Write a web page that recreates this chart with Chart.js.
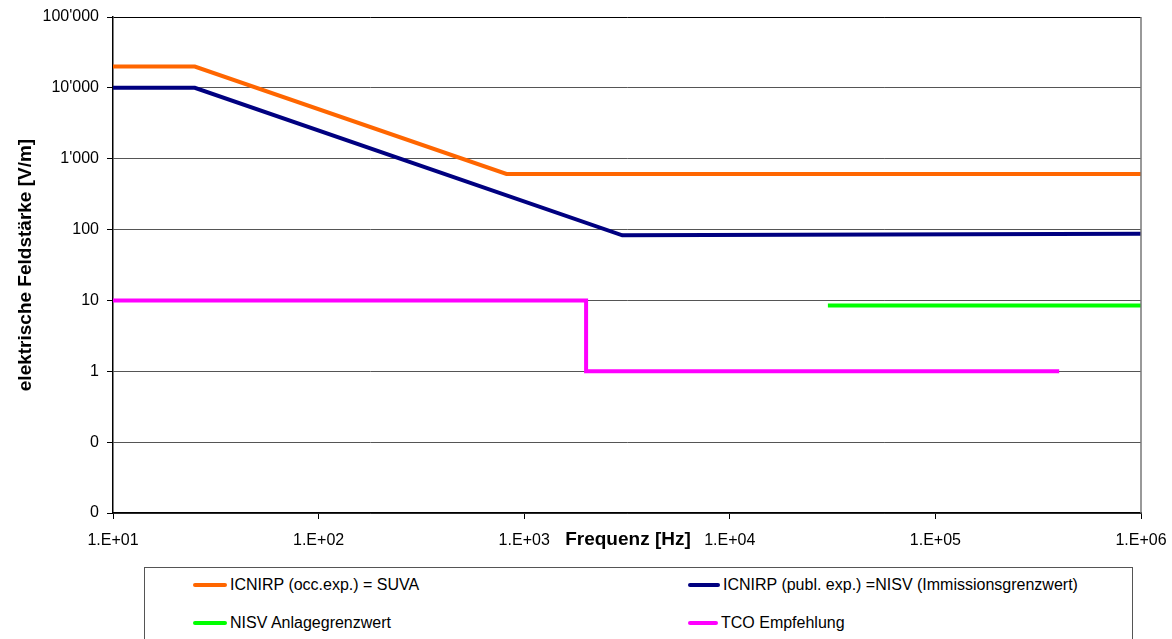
<!DOCTYPE html>
<html>
<head>
<meta charset="utf-8">
<script src="https://cdn.jsdelivr.net/npm/chart.js@4/dist/chart.umd.min.js"></script>
<style>
    html, body { margin: 0; padding: 0; background: #fff; }
    #wrap { position: relative; width: 1172px; height: 639px; overflow: hidden; }
    #legend {
        position: absolute; left: 144px; top: 567px; width: 987px; height: 90px;
        border: 1px solid #555; background: #fff;
        font-family: "Liberation Sans", Arial, sans-serif; font-size: 16px; color: #000;
    }
    .item { position: absolute; display: flex; align-items: center; white-space: nowrap; }
    .swatch { display: inline-block; height: 4px; border-radius: 2px; margin-right: 3px; }
</style>
</head>
<body>
<div id="wrap">
    <canvas id="chart" width="1172" height="639"></canvas>
    <div id="legend"></div>
</div>
<script>
// Frequenz [Hz] und Feldstärke [V/m]
const suvaFreq = [10, 25, 820, 1000000];
const suvaVal = [20000, 20000, 610, 610];

const nisvFreq = [10, 25, 3000, 1000000];
const nisvVal = [10000, 10000, 83, 87];

const anlageFreq = [30000, 1000000];
const anlageVal = [8.5, 8.5];

const tcoFreq = [10, 2000, 2000, 400000];
const tcoVal = [10, 10, 1, 1];

const seriesNames = [
    'ICNIRP (occ.exp.) = SUVA',
    'ICNIRP (publ. exp.) =NISV (Immissionsgrenzwert)',
    'NISV Anlagegrenzwert',
    'TCO Empfehlung'
];
const seriesColors = ['#FF6600', '#000080', '#00FF00', '#FF00FF'];

const xTicks = [10, 100, 1000, 10000, 100000, 1000000];
const yTicks = [0.01, 0.1, 1, 10, 100, 1000, 10000, 100000];

const FONT = '"Liberation Sans", Arial, sans-serif';

function toPoints(xs, ys) {
    return xs.map((x, i) => ({ x: x, y: ys[i] }));
}

function formatY(v) {
    if (v < 1) return '0';
    return String(Math.round(v)).replace(/\B(?=(\d{3})+(?!\d))/g, "'");
}

function formatX(v) {
    const e = Math.round(Math.log10(v));
    return '1.E+' + (e < 10 ? '0' + e : e);
}

const allData = [
    toPoints(suvaFreq, suvaVal),
    toPoints(nisvFreq, nisvVal),
    toPoints(anlageFreq, anlageVal),
    toPoints(tcoFreq, tcoVal)
];

// x-Titel und rechter Rahmen
const extras = {
    id: 'extras',
    afterDraw(chart) {
        const ctx = chart.ctx;
        const a = chart.chartArea;
        ctx.save();
        ctx.strokeStyle = '#777';
        ctx.lineWidth = 1.5;
        ctx.beginPath();
        ctx.moveTo(a.right, a.top);
        ctx.lineTo(a.right, a.bottom);
        ctx.stroke();
        ctx.fillStyle = '#000';
        ctx.font = 'bold 19px ' + FONT;
        ctx.textAlign = 'center';
        ctx.textBaseline = 'middle';
        ctx.fillText('Frequenz [Hz]', (a.left + a.right) / 2 + 1, 540);
        ctx.restore();
    }
};

const ctx = document.getElementById('chart').getContext('2d');
new Chart(ctx, {
    type: 'line',
    data: {
        datasets: allData.map((d, i) => ({
            label: seriesNames[i],
            data: d,
            borderColor: seriesColors[i],
            backgroundColor: seriesColors[i],
            borderWidth: 4,
            pointRadius: 0,
            tension: 0,
            fill: false,
            clip: false
        }))
    },
    options: {
        responsive: false,
        animation: false,
        layout: { padding: { left: 0, top: 17, right: 31, bottom: 86 } },
        plugins: {
            legend: { display: false },
            tooltip: { enabled: false }
        },
        scales: {
            x: {
                type: 'logarithmic',
                min: 10,
                max: 1000000,
                afterBuildTicks: s => { s.ticks = xTicks.map(v => ({ value: v })); },
                afterFit: s => { s.height = 40; s.paddingLeft = 0; s.paddingRight = 0; },
                border: { color: '#000', width: 1.5 },
                grid: { drawOnChartArea: false, drawTicks: true, tickLength: 6, tickColor: '#000' },
                ticks: {
                    padding: 12,
                    maxRotation: 0,
                    autoSkip: false,
                    color: '#000',
                    font: { family: FONT, size: 16 },
                    callback: v => formatX(v)
                }
            },
            y: {
                type: 'logarithmic',
                min: 0.01,
                max: 100000,
                afterBuildTicks: s => { s.ticks = yTicks.map(v => ({ value: v })); },
                afterFit: s => { s.width = 113; s.paddingTop = 0; s.paddingBottom = 0; },
                border: { color: '#000', width: 1.5 },
                grid: {
                    color: ctx => ctx.tick && ctx.tick.value === 100000 ? '#000' : '#555',
                    lineWidth: 1,
                    tickLength: 6,
                    tickColor: '#000'
                },
                ticks: {
                    padding: 8,
                    autoSkip: false,
                    color: '#000',
                    font: { family: FONT, size: 16 },
                    callback: v => formatY(v)
                },
                title: {
                    display: true,
                    text: 'elektrische Feldstärke [V/m]',
                    color: '#000',
                    font: { family: FONT, size: 19, weight: 'bold' },
                    padding: { top: 14, bottom: 0 }
                }
            }
        }
    },
    plugins: [extras]
});

// Legende als HTML, zwei Spalten
const legend = document.getElementById('legend');
const legendPos = [
    { left: 48, top: 8, w: 34 },
    { left: 543, top: 8, w: 32 },
    { left: 48, top: 46, w: 34 },
    { left: 543, top: 46, w: 30 }
];
seriesNames.forEach((name, i) => {
    const item = document.createElement('div');
    item.className = 'item';
    item.style.left = legendPos[i].left + 'px';
    item.style.top = legendPos[i].top + 'px';
    const sw = document.createElement('span');
    sw.className = 'swatch';
    sw.style.width = legendPos[i].w + 'px';
    sw.style.background = seriesColors[i];
    const txt = document.createElement('span');
    txt.textContent = name;
    item.appendChild(sw);
    item.appendChild(txt);
    legend.appendChild(item);
});
</script>
</body>
</html>
